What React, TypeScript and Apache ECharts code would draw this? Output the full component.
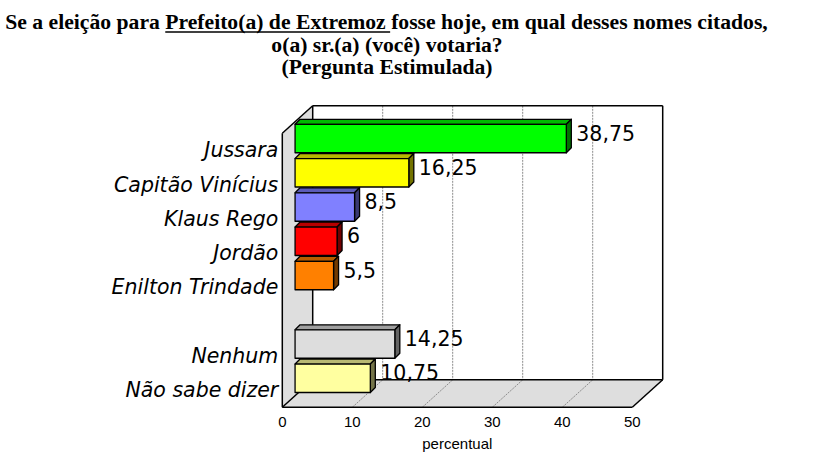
import React, { useEffect, useRef } from "react";
import * as echarts from "echarts";

const categories = ["Jussara", "Capitão Vinícius", "Klaus Rego", "Jordão", "Enilton Trindade", "", "Nenhum", "Não sabe dizer"];
const values: (number | null)[] = [38.75, 16.25, 8.5, 6, 5.5, null, 14.25, 10.75];
const barColors = ["#00FF00", "#FFFF00", "#8080FF", "#FF0000", "#FF8000", "#FFFFFF", "#DDDDDD", "#FFFFA0"];
const xMin = 0;
const xMax = 50;
const xInterval = 10;
const gridValues = [10, 20, 30, 40];
const titleLine1a = "Se a eleição para ";
const titleLine1b = "Prefeito(a) de Extremoz ";
const titleLine1c = "fosse hoje, em qual desses nomes citados,";
const titleLine2 = "o(a) sr.(a) (você) votaria?";
const titleLine3 = "(Pergunta Estimulada)";
const axisName = "percentual";

const DX = 30.4;
const DY = -27.5;

function shade(hex: string, k: number): string {
  const n = parseInt(hex.slice(1), 16);
  const r = Math.round(((n >> 16) & 255) * k);
  const g = Math.round(((n >> 8) & 255) * k);
  const b = Math.round((n & 255) * k);
  return "rgb(" + r + "," + g + "," + b + ")";
}

function fmt(v: number): string {
  return String(v).replace(".", ",");
}

export default function App() {
  const ref = useRef<HTMLDivElement>(null);
  useEffect(() => {
    if (!ref.current) return;
    const chart = echarts.init(ref.current, undefined, { renderer: "svg" });

    const titleFamily = '"Liberation Serif"';
    const canvas = document.createElement("canvas");
    const ctx = canvas.getContext("2d")!;
    ctx.font = "bold 20px " + titleFamily;
    const wAll = ctx.measureText(titleLine1a + titleLine1b + titleLine1c).width;
    const fs = Math.min(23, (20 * 763) / wAll);
    ctx.font = "bold " + fs + "px " + titleFamily;
    const wA = ctx.measureText(titleLine1a).width;
    const wB = ctx.measureText(titleLine1b).width;
    const wTot = ctx.measureText(titleLine1a + titleLine1b + titleLine1c).width;
    const startX = 386.5 - wTot / 2;
    const tStyle = (text: string, align: string) => ({
      text,
      fill: "#000",
      fontSize: fs,
      fontFamily: "Liberation Serif",
      fontWeight: "bold",
      align,
      verticalAlign: "middle",
    });

    const barData = values
      .map((v, i) => (v == null ? null : [v, i]))
      .filter((d) => d != null);

    chart.setOption({
      animation: false,
      backgroundColor: "#FFFFFF",
      grid: { left: 282.3, top: 133.3, width: 350, height: 274 },
      xAxis: {
        type: "value",
        min: xMin,
        max: xMax,
        interval: xInterval,
        axisLine: { show: false },
        axisTick: { show: false },
        splitLine: { show: false },
        axisLabel: { color: "#000", fontSize: 15, fontFamily: "Liberation Sans", margin: 7 },
        name: axisName,
        nameLocation: "middle",
        nameGap: 29,
        nameTextStyle: { color: "#000", fontSize: 15, fontFamily: "Liberation Sans" },
      },
      yAxis: {
        type: "category",
        inverse: true,
        data: categories,
        axisLine: { show: false },
        axisTick: { show: false },
        splitLine: { show: false },
        axisLabel: {
          color: "#000",
          fontSize: 20.5,
          fontStyle: "italic",
          fontFamily: "DejaVu Sans",
          margin: 4,
        },
      },
      graphic: [
        { type: "text", x: startX, y: 22, style: tStyle(titleLine1a, "left") },
        { type: "text", x: startX + wA, y: 22, style: tStyle(titleLine1b, "left") },
        { type: "text", x: startX + wA + wB, y: 22, style: tStyle(titleLine1c, "left") },
        {
          type: "line",
          shape: { x1: startX + wA, y1: 32, x2: startX + wA + wB - 1, y2: 32 },
          style: { stroke: "#000", lineWidth: 1.5 },
        },
        { type: "text", x: 387, y: 44.5, style: tStyle(titleLine2, "center") },
        { type: "text", x: 387, y: 67, style: tStyle(titleLine3, "center") },
      ],
      series: [
        {
          type: "custom",
          z: 1,
          silent: true,
          data: [[0, 0]],
          encode: { x: 0, y: 1 },
          renderItem: (params: any, api: any) => {
            const cs = params.coordSys;
            const x0 = cs.x;
            const y0 = cs.y;
            const x1 = cs.x + cs.width;
            const y1 = cs.y + cs.height;
            const edge = { stroke: "#000", lineWidth: 1.5 };
            const children: any[] = [
              {
                type: "polygon",
                shape: { points: [[x0, y0], [x0 + DX, y0 + DY], [x0 + DX, y1 + DY], [x0, y1]] },
                style: { fill: "#DEDEDE" },
              },
              {
                type: "polygon",
                shape: { points: [[x0, y1], [x0 + DX, y1 + DY], [x1 + DX, y1 + DY], [x1, y1]] },
                style: { fill: "#DEDEDE" },
              },
              {
                type: "rect",
                shape: { x: x0 + DX, y: y0 + DY, width: x1 - x0, height: y1 - y0 },
                style: { fill: "#FFFFFF" },
              },
            ];
            gridValues.forEach((v) => {
              const gx = api.coord([v, 0])[0];
              children.push({
                type: "line",
                shape: { x1: gx + DX, y1: y0 + DY, x2: gx + DX, y2: y1 + DY },
                style: { stroke: "#8C8C8C", lineWidth: 1, lineDash: [2, 1] },
              });
              children.push({
                type: "line",
                shape: { x1: gx, y1: y1, x2: gx + DX, y2: y1 + DY },
                style: { stroke: "#8C8C8C", lineWidth: 1, lineDash: [2, 1] },
              });
            });
            const lines = [
              [x0 + DX, y0 + DY, x1 + DX, y0 + DY],
              [x1 + DX, y0 + DY, x1 + DX, y1 + DY],
              [x0 + DX, y1 + DY, x1 + DX, y1 + DY],
              [x0 + DX, y0 + DY, x0 + DX, y1 + DY],
              [x0, y0, x0 + DX, y0 + DY],
              [x0, y1, x0 + DX, y1 + DY],
              [x1, y1, x1 + DX, y1 + DY],
              [x0, y0, x0, y1],
              [x0, y1, x1, y1],
            ];
            lines.forEach((l) =>
              children.push({ type: "line", shape: { x1: l[0], y1: l[1], x2: l[2], y2: l[3] }, style: edge })
            );
            return { type: "group", children };
          },
        },
        {
          type: "custom",
          z: 3,
          data: barData,
          encode: { x: 0, y: 1 },
          renderItem: (params: any, api: any) => {
            const v = api.value(0);
            const idx = api.value(1);
            const pa = api.coord([0, idx]);
            const pb = api.coord([v, idx]);
            const band = api.size([0, 1])[1];
            const h = band * 0.83;
            const fx = DX * 0.42;
            const fy = DY * 0.433;
            const d = 5;
            const xa = pa[0] + fx;
            const xb = pb[0] + fx;
            const yc = pa[1] + fy;
            const top = yc - h / 2;
            const bot = yc + h / 2;
            const col = barColors[idx];
            const outline = { stroke: "#000", lineWidth: 1.3, lineJoin: "round" };
            return {
              type: "group",
              children: [
                {
                  type: "polygon",
                  shape: { points: [[xa, top], [xa + d, top - d], [xb + d, top - d], [xb, top]] },
                  style: { fill: shade(col, 0.72), ...outline },
                },
                {
                  type: "polygon",
                  shape: { points: [[xb, top], [xb + d, top - d], [xb + d, bot - d], [xb, bot]] },
                  style: { fill: shade(col, 0.45), ...outline },
                },
                {
                  type: "rect",
                  shape: { x: xa, y: top, width: xb - xa, height: h },
                  style: { fill: col, ...outline },
                },
                {
                  type: "text",
                  style: {
                    text: fmt(v),
                    x: xb + d + 5,
                    y: yc - 5,
                    fill: "#000",
                    fontSize: 20.5,
                    fontFamily: "DejaVu Sans",
                    align: "left",
                    verticalAlign: "middle",
                  },
                },
              ],
            };
          },
        },
      ],
    });
    return () => chart.dispose();
  }, []);
  return (
    <div
      ref={ref}
      style={{ position: "fixed", left: 0, top: 0, width: 817, height: 466 }}
    />
  );
}
